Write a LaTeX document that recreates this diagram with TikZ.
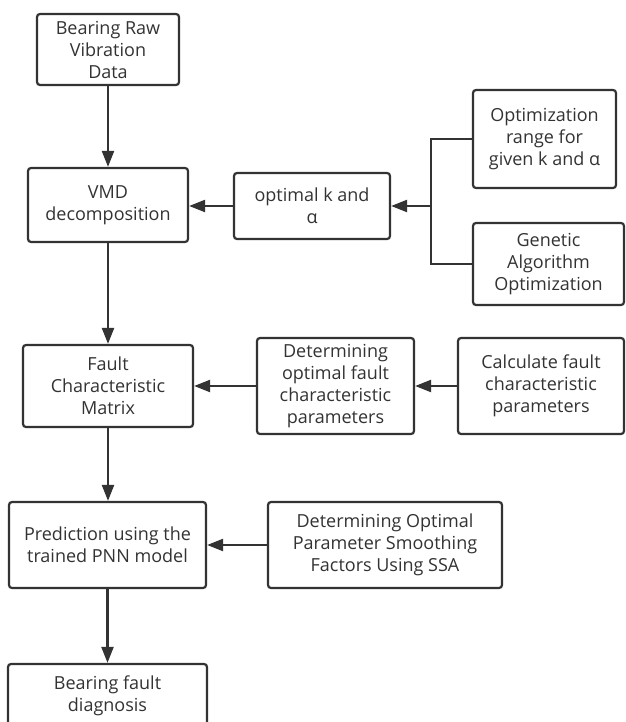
\documentclass[tikz,border=0pt]{standalone}
\usepackage{fontspec}
\setmainfont{Open Sans}
\usetikzlibrary{arrows.meta}
\definecolor{ink}{HTML}{333333}
\begin{document}
\begin{tikzpicture}[x=1pt,y=-1pt,
  box/.style={draw=ink, line width=2.2pt, rounded corners=3pt, fill=white, text=ink,
    align=center, inner sep=0pt, font=\fontsize{18}{22}\selectfont},
  arr/.style={draw=ink, line width=2.2pt, -{Triangle[length=16pt,width=12pt]}},
  ln/.style={draw=ink, line width=2.2pt}]
\useasboundingbox (0,0) rectangle (625,722);
\clip (0,0) rectangle (625,722);
\fill[white] (0,0) rectangle (625,722);
\node[box, minimum width=142pt, minimum height=71pt] (raw) at (108,49.5) {Bearing Raw\\Vibration\\Data};
\node[box, minimum width=160pt, minimum height=74pt] (vmd) at (108,205) {VMD\\decomposition};
\node[box, minimum width=156pt, minimum height=66pt] (opt) at (312,206) {optimal k and\\α};
\node[box, minimum width=143pt, minimum height=98pt] (range) at (544.5,139) {Optimization\\range for\\given k and α};
\node[box, minimum width=151pt, minimum height=82pt] (ga) at (548.5,264) {Genetic\\Algorithm\\Optimization};
\node[box, minimum width=170pt, minimum height=82pt] (fcm) at (108,386) {Fault\\Characteristic\\Matrix};
\node[box, minimum width=157pt, minimum height=96pt] (dofp) at (335.5,386) {Determining\\optimal fault\\characteristic\\parameters};
\node[box, minimum width=166pt, minimum height=96pt] (calc) at (541,386) {Calculate fault\\characteristic\\parameters};
\node[box, minimum width=197pt, minimum height=86pt] (pred) at (107.5,545) {Prediction using the\\trained PNN model};
\node[box, minimum width=234pt, minimum height=86pt] (dop) at (385,545) {Determining Optimal\\Parameter Smoothing\\Factors Using SSA};
\node[box, minimum width=199pt, minimum height=64pt] (diag) at (107.5,696) {Bearing fault\\diagnosis};
\coordinate (j) at (431,206);
\draw[arr] (raw) -- (vmd);
\draw[arr] (vmd) -- (fcm);
\draw[arr] (fcm.south) -- (fcm.south |- pred.north);
\draw[arr] (pred.south) -- (pred.south |- diag.north);
\draw[arr] (opt.west) -- (opt.west -| vmd.east);
\draw[ln] (range.west) -| (j) |- (ga.west);
\draw[arr] (j) -- (opt.east);
\draw[arr] (calc.west) -- (calc.west -| dofp.east);
\draw[arr] (dofp.west) -- (dofp.west -| fcm.east);
\draw[arr] (dop.west) -- (dop.west -| pred.east);
\end{tikzpicture}
\end{document}
